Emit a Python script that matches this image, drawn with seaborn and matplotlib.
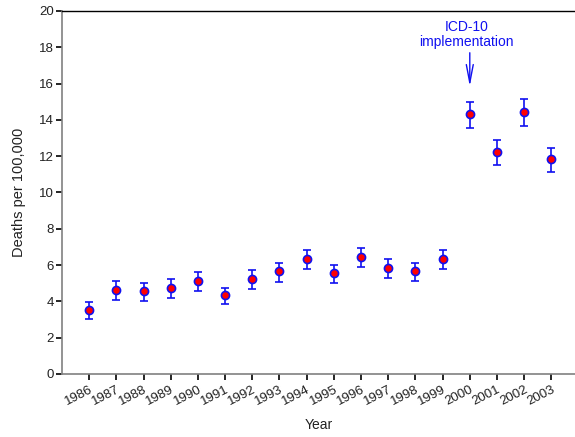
import numpy as np
import pandas as pd
import matplotlib
matplotlib.use("Agg")
import matplotlib.pyplot as plt
import seaborn as sns

# Data
years = list(range(1986, 2004))
rate = [3.55, 4.65, 4.55, 4.75, 5.15, 4.35, 5.25, 5.65, 6.35, 5.55,
        6.45, 5.85, 5.65, 6.35, 14.35, 12.25, 14.45, 11.85]
lower = [3.05, 4.08, 4.00, 4.19, 4.57, 3.84, 4.70, 5.09, 5.77, 5.00,
         5.88, 5.31, 5.12, 5.79, 13.55, 11.53, 13.66, 11.15]
upper = [3.98, 5.14, 5.01, 5.22, 5.62, 4.75, 5.71, 6.12, 6.85, 6.00,
         6.92, 6.32, 6.10, 6.81, 14.99, 12.87, 15.13, 12.45]
y_ticks = list(range(0, 21, 2))

df = pd.DataFrame({"year": years, "rate": rate, "lower": lower, "upper": upper})

sns.set_style("ticks")
plt.rcParams["font.family"] = ["Liberation Sans", "DejaVu Sans"]

blue = "#1010f0"

fig = plt.figure(figsize=(5.75, 4.37), dpi=100)
ax = fig.add_axes([62 / 575, 1 - 374 / 437, 1 - 62 / 575, (374 - 11) / 437])

# Error bars
yerr = np.array([df["rate"] - df["lower"], df["upper"] - df["rate"]])
ax.errorbar(df["year"], df["rate"], yerr=yerr, fmt="none", ecolor=blue,
            elinewidth=1.2, capsize=2.7, capthick=1.2, zorder=2)

# Points
sns.scatterplot(data=df, x="year", y="rate", ax=ax, color="#ff0000",
                edgecolor=blue, linewidth=1.2, s=34, zorder=3, legend=False)

ax.set_xlim(1985, 2003.87)
ax.set_ylim(0, 20)
ax.set_xticks(years)
ax.set_xticklabels([str(y) for y in years], rotation=27, ha="right",
                   rotation_mode="anchor", fontsize=9.5, color="#222222")
ax.set_yticks(y_ticks)
ax.set_yticklabels([str(t) for t in y_ticks], fontsize=9.5, color="#222222")
ax.tick_params(axis="both", direction="out", length=4, width=1.2, color="black")
ax.tick_params(axis="x", pad=3)
ax.tick_params(axis="y", pad=2)

for side in ["left", "bottom"]:
    ax.spines[side].set_color("#808080")
    ax.spines[side].set_linewidth(1.2)
ax.spines["top"].set_visible(True)
ax.spines["top"].set_color("black")
ax.spines["top"].set_linewidth(1.0)
ax.spines["right"].set_visible(False)

ax.set_xlabel("Year", fontsize=10, labelpad=7, color="#222222")
ax.set_ylabel("Deaths per 100,000", fontsize=10.5, labelpad=9, color="#222222")

# ICD-10 annotation
ax.text(1999.88, 18.7, "ICD-10\nimplementation", color=blue, fontsize=10,
        ha="center", va="center", linespacing=1.1)
ax.annotate("", xy=(2000, 15.85), xytext=(2000, 17.7),
            arrowprops=dict(arrowstyle="->,head_length=1.3,head_width=0.25",
                            color=blue, lw=1.0, shrinkA=0, shrinkB=0))

fig.savefig("out.png", dpi=100)
